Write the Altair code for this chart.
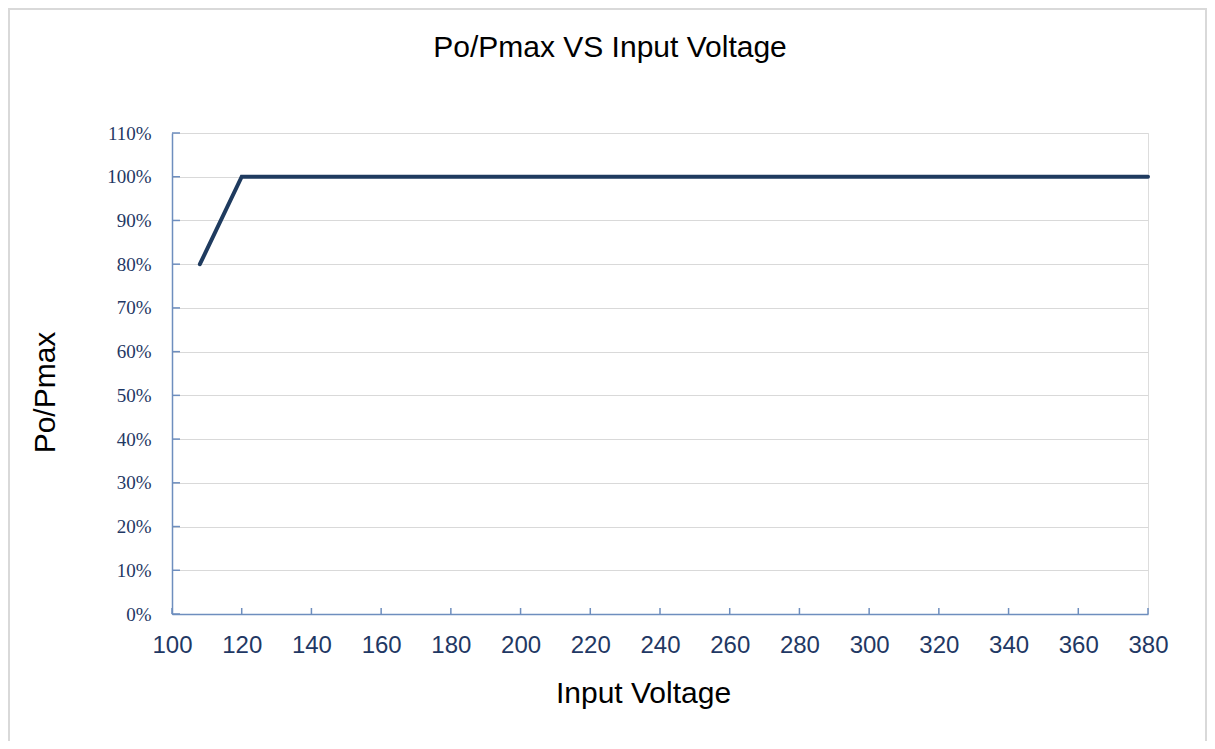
import altair as alt
import pandas as pd

# ---- data ----
voltage = [108, 120, 380]
ratio = [0.80, 1.00, 1.00]
x_ticks = [100, 120, 140, 160, 180, 200, 220, 240, 260, 280, 300, 320, 340, 360, 380]
y_ticks = [0.0, 0.1, 0.2, 0.3, 0.4, 0.5, 0.6, 0.7, 0.8, 0.9, 1.0, 1.1]
chart_title = "Po/Pmax VS Input Voltage"

W, H = 976, 481
NAVY = "#1F3B5F"
AXIS = "#6E8EBE"
LABEL = "#1F3864"
GRID = "#D9D9D9"

df = pd.DataFrame({"voltage": voltage, "ratio": ratio})
one = pd.DataFrame({"title": [chart_title]})
xs = alt.Scale(domain=[100, 380], nice=False, zero=False)
ys = alt.Scale(domain=[0, 1.1], nice=False)

border = alt.Chart(one).mark_rect(
    fillOpacity=0, stroke=GRID, strokeWidth=2
).encode(
    x=alt.value(-163), x2=alt.value(1034), y=alt.value(-124), y2=alt.value(700)
)

title = alt.Chart(one).mark_text(
    font="Liberation Sans", fontSize=30, color="black",
    align="center", baseline="alphabetic",
).encode(
    text="title:N", x=alt.value(438), y=alt.value(-76)
)

line = alt.Chart(df).mark_line(color=NAVY, strokeWidth=4, strokeCap="round").encode(
    x=alt.X(
        "voltage:Q",
        scale=xs,
        axis=alt.Axis(
            values=x_ticks, title="Input Voltage", grid=False, ticks=False,
            domainColor=AXIS, domainWidth=1.5,
            labelFont="Liberation Sans", labelFontSize=24, labelColor=LABEL,
            labelPadding=19, labelFlush=False, labelOverlap=False,
            titleFont="Liberation Sans", titleFontSize=30, titleFontWeight="normal",
            titleColor="black", titleX=471, titleY=88,
            titleBaseline="alphabetic", titleAlign="center",
        ),
    ),
    y=alt.Y(
        "ratio:Q",
        scale=ys,
        axis=alt.Axis(
            values=y_ticks, format=".0%", title="Po/Pmax", grid=True,
            gridColor=GRID, gridWidth=1, ticks=False,
            domainColor=AXIS, domainWidth=1.5,
            labelFont="Liberation Serif", labelFontSize=19, labelColor=LABEL,
            labelPadding=21, labelOverlap=False,
            titleFont="Liberation Sans", titleFontSize=30, titleFontWeight="normal",
            titleColor="black", titleX=-127, titleY=259, titleAngle=270,
            titleBaseline="middle", titleAlign="center",
        ),
    ),
)

xt = alt.Chart(pd.DataFrame({"voltage": x_ticks})).mark_rule(
    color=AXIS, strokeWidth=1.5
).encode(
    x=alt.X("voltage:Q", scale=xs), y=alt.value(H - 6), y2=alt.value(H)
)

yt = alt.Chart(pd.DataFrame({"ratio": y_ticks})).mark_rule(
    color=AXIS, strokeWidth=1.5
).encode(
    y=alt.Y("ratio:Q", scale=ys), x=alt.value(0), x2=alt.value(8)
)

chart = alt.layer(border, title, line, xt, yt).properties(
    width=W,
    height=H,
    autosize=alt.AutoSizeParams(type="none"),
    padding={"left": 164, "top": 125, "right": 59, "bottom": 127},
).configure_view(stroke=None).configure(background="white")

chart.save("out.html", embed_options={"renderer": "svg", "actions": False})
